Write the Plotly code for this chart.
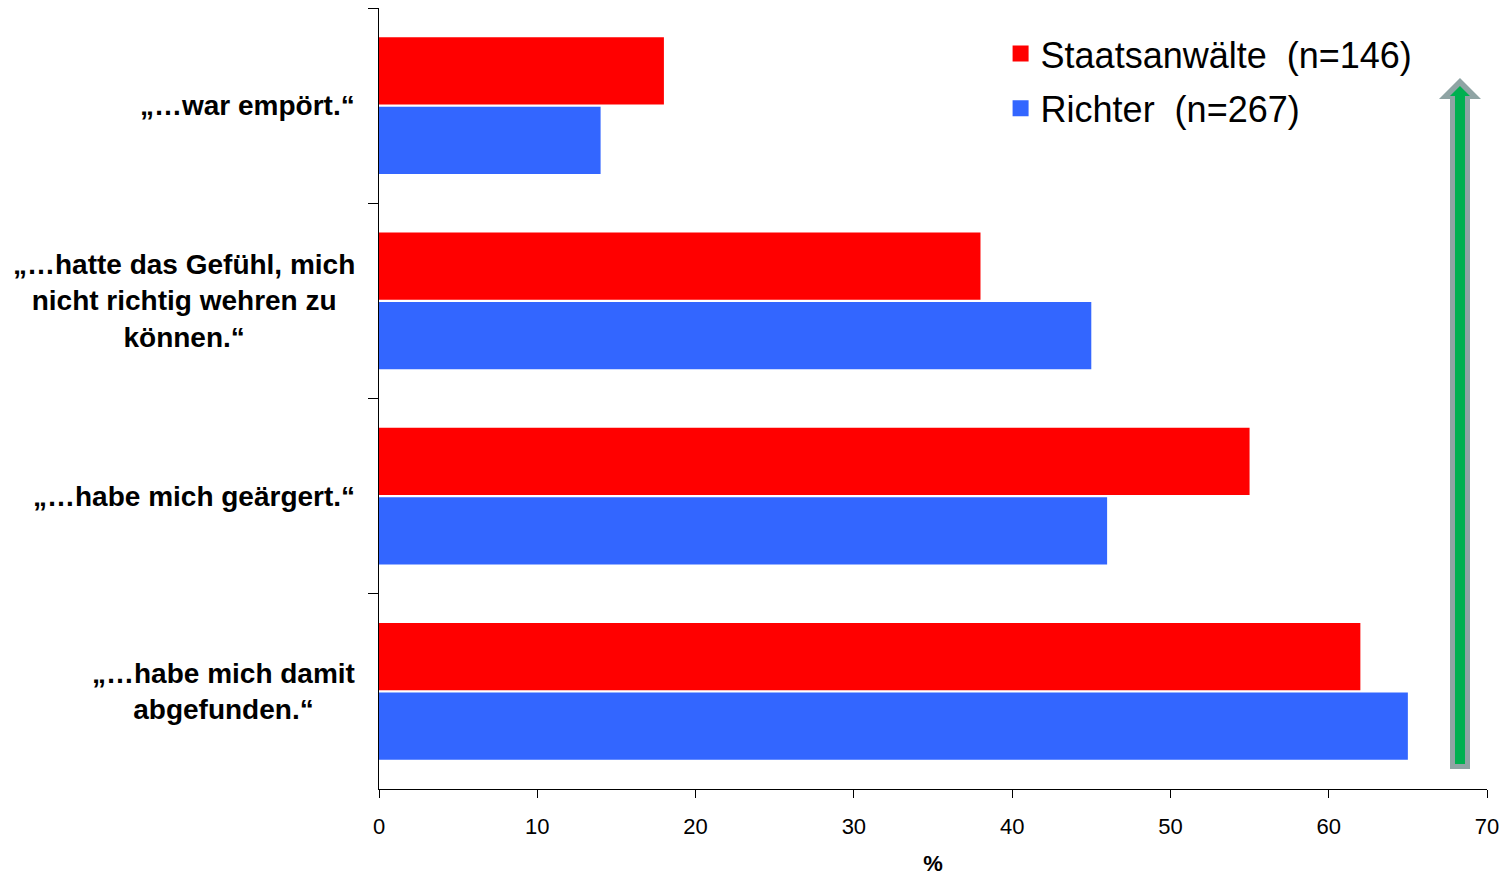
import plotly.graph_objects as go

# Survey statements (top to bottom) and share of respondents in %
statements = [
    "„…war empört.“",
    "„…hatte das Gefühl, mich<br>nicht richtig wehren zu<br>können.“",
    "„…habe mich geärgert.“",
    "„…habe mich damit<br>abgefunden.“",
]
staatsanwaelte = [18, 38, 55, 62]
richter = [14, 45, 46, 65]

series_names = ["Staatsanwälte\u00a0\u00a0(n=146)", "Richter\u00a0\u00a0(n=267)"]
colors = ["#FF0000", "#3366FF"]

x_ticks = [0, 10, 20, 30, 40, 50, 60, 70]

FONT = "Liberation Sans, Arial, sans-serif"

fig = go.Figure()
for i, (name, vals, col) in enumerate(zip(series_names, [staatsanwaelte, richter], colors)):
    fig.add_trace(go.Bar(
        y=statements, x=vals, orientation="h", name=name,
        marker=dict(color=col, line=dict(width=0)),
        showlegend=False,
    ))
    # larger legend swatch
    fig.add_trace(go.Scatter(
        x=[None], y=[None], mode="markers", name=name,
        legendgroup=f"g{i}",
        marker=dict(symbol="square", size=16, color=col),
        showlegend=True,
    ))

# category labels, centred line by line
for s in statements:
    fig.add_annotation(
        x=0, xref="paper", y=s, yref="y", text=s, showarrow=False,
        xanchor="right", xshift=-22, align="center",
        font=dict(family=FONT, size=28, color="black", weight="bold"),
    )

# plot area geometry in pixels, used to place the block arrow
W, H = 1506, 876
L, R, T, B = 379, 19, 8, 87
pw, ph = W - L - R, H - T - B


def px(x):
    return (x - L) / pw


def py(y):
    return (H - B - y) / ph


def poly(pts):
    return "M " + " L ".join(f"{px(a):.5f},{py(b):.5f}" for a, b in pts) + " Z"


outer = [(1450, 769), (1470, 769), (1470, 99), (1481, 99), (1460, 78),
         (1439, 99), (1450, 99)]
inner = [(1455, 764), (1465, 764), (1465, 96), (1470, 96), (1460, 86),
         (1450, 96), (1455, 96)]
fig.add_shape(type="path", xref="paper", yref="paper", path=poly(outer),
              fillcolor="#8FA4A4", line=dict(width=0))
fig.add_shape(type="path", xref="paper", yref="paper", path=poly(inner),
              fillcolor="#00B050", line=dict(width=0))

fig.update_layout(
    width=W, height=H,
    margin=dict(l=L, r=R, t=T, b=B),
    paper_bgcolor="white", plot_bgcolor="white",
    barmode="group", bargap=0.29, bargroupgap=0.03,
    font=dict(family=FONT, color="black"),
    legend=dict(
        x=0.561, y=0.98, xanchor="left", yanchor="top",
        font=dict(family=FONT, size=36, color="black"),
        bgcolor="rgba(0,0,0,0)", itemsizing="trace",
        traceorder="grouped", tracegroupgap=5,
    ),
    xaxis=dict(
        range=[0, 70], tickvals=x_ticks, ticks="outside", ticklen=8,
        tickcolor="black", showline=True, linecolor="black", linewidth=1,
        showgrid=False, zeroline=False, ticklabelstandoff=10,
        automargin=False,
        tickfont=dict(family=FONT, size=22, color="black"),
        title=dict(text="%", font=dict(family=FONT, size=22, color="black",
                                       weight="bold"), standoff=23),
    ),
    yaxis=dict(
        type="category", autorange="reversed", tickson="boundaries",
        ticks="outside", ticklen=10, tickcolor="black",
        showline=True, linecolor="black", linewidth=1, automargin=False,
        showgrid=False, zeroline=False, showticklabels=False,
    ),
)

fig.write_html("out.html")
